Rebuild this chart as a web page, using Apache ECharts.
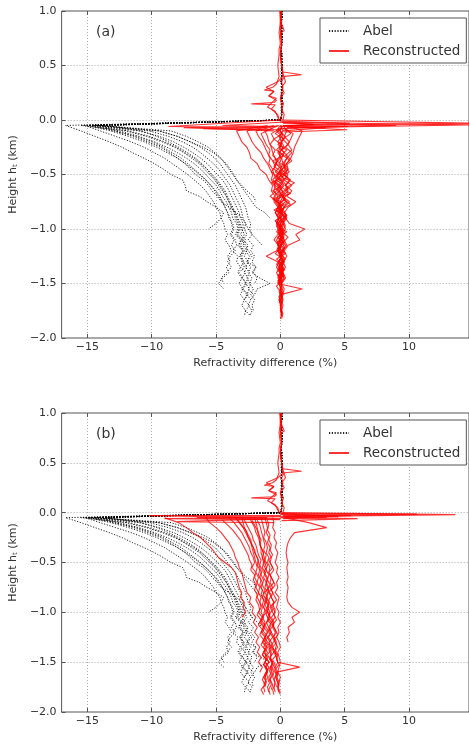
<!DOCTYPE html>
<html>
<head>
<meta charset="utf-8">
<script src="https://cdn.jsdelivr.net/npm/echarts@6/dist/echarts.min.js"></script>
<style>
html, body { margin: 0; padding: 0; background: #fff; }
#chart { width: 469px; height: 744px; }
</style>
</head>
<body>
<div id="chart"></div>
<script>
// height grids (km)
const zTop = [1.0, 0.95, 0.9, 0.85, 0.8, 0.75, 0.7, 0.65, 0.6, 0.55, 0.5, 0.45, 0.4, 0.35, 0.3, 0.25, 0.2, 0.15, 0.1, 0.05, 0.0];
const zLow = [-0.05, -0.1, -0.15, -0.2, -0.25, -0.3, -0.35, -0.4, -0.45, -0.5, -0.55, -0.6, -0.65, -0.7, -0.75, -0.8, -0.85, -0.9,
  -0.95, -1.0, -1.05, -1.1, -1.15, -1.2, -1.25, -1.3, -1.35, -1.4, -1.45, -1.5, -1.55, -1.6, -1.65, -1.7, -1.75, -1.8];
const zLowOff = [-0.075, -0.125, -0.175, -0.225, -0.275, -0.325, -0.375, -0.425, -0.475, -0.525, -0.575, -0.625, -0.675, -0.725,
  -0.775, -0.825, -0.875, -0.925, -0.975, -1.025, -1.075, -1.125, -1.175, -1.225, -1.275, -1.325, -1.375, -1.425, -1.475, -1.525,
  -1.575, -1.625, -1.675, -1.725, -1.775, -1.825];
const xTicks = [-15, -10, -5, 0, 5, 10];

// Abel profiles (same in both panels)
const abelTop = [0.1, 0.12, 0.08, 0.1, 0.1, 0.12, 0.1, 0.08, 0.1, 0.1, 0.12, 0.1, 0.1, 0.08, 0.1, 0.1, 0.12, 0.1, 0.1, 0.1, 0.05];
const abel01 = [-16.7, -15.5, -14.4, -13.3, -12.3, -11.5, -10.6, -9.8, -9.1, -8.5, -7.6, -7.4, -7.3, -6.3, -5.7, -5.0, -4.4, -4.6, -5.0, -5.6];
const abel02 = [-15.2, -14.0, -12.8, -11.6, -10.6, -9.8, -9.0, -8.4, -7.8, -7.2, -6.7, -6.2, -5.8, -5.5, -5.2, -5.0, -4.7, -4.6, -4.4, -4.3,
  -4.1, -4.3, -4.0, -3.8, -4.1, -3.9, -4.2, -4.0, -4.5, -4.8, -4.4];
const abel03 = [-15.0, -13.2, -11.8, -10.6, -9.6, -8.8, -8.0, -7.4, -6.8, -6.3, -5.8, -5.4, -5.1, -4.8, -4.5, -4.3, -4.1, -4.0, -3.7, -3.6,
  -3.8, -3.5, -3.4, -3.7, -3.3, -3.4, -3.1, -3.3, -3.0, -3.2, -2.9, -3.1, -2.8, -3.0, -2.7, -2.8];
const abel04 = [-14.8, -12.5, -11.0, -9.8, -8.8, -8.0, -7.3, -6.7, -6.2, -5.8, -5.4, -5.0, -4.7, -4.5, -4.2, -4.0, -3.8, -3.7, -3.4, -3.3,
  -3.5, -3.1, -3.2, -2.9, -3.1, -3.0, -2.8, -3.2, -2.9, -2.7, -3.0, -2.6, -2.8];
const abel05 = [-14.6, -11.8, -10.2, -9.0, -8.1, -7.4, -6.7, -6.2, -5.7, -5.3, -4.9, -4.6, -4.3, -4.1, -3.9, -3.7, -3.5, -3.4, -3.2, -3.1,
  -3.3, -2.9, -3.1, -2.8, -3.0, -2.9, -2.6, -2.8, -2.5, -2.7, -2.4, -2.6, -2.3, -2.5, -2.2, -2.4];
const abel06 = [-14.5, -11.0, -9.4, -8.3, -7.5, -6.8, -6.2, -5.7, -5.3, -4.9, -4.5, -4.2, -4.0, -3.8, -3.6, -3.4, -3.2, -3.1, -2.9, -2.9,
  -3.1, -2.7, -2.9, -2.6, -2.8, -2.5, -2.7, -2.4, -2.6, -2.3, -2.5, -2.1];
const abel07 = [-14.4, -10.2, -8.7, -7.6, -6.8, -6.2, -5.7, -5.2, -4.8, -4.5, -4.2, -3.9, -3.7, -3.5, -3.3, -3.1, -3.0, -2.9, -2.7, -2.8,
  -2.6, -2.9, -2.5, -2.7, -2.4, -2.6, -2.3, -2.5, -2.2, -2.4, -2.1, -2.3, -2.0, -2.2, -2.1];
const abel08 = [-14.3, -9.4, -8.0, -7.0, -6.2, -5.6, -5.1, -4.7, -4.4, -4.1, -3.8, -3.5, -3.3, -3.1, -2.9, -2.7, -2.6, -2.5, -2.3, -2.4,
  -2.2, -2.5, -2.1, -2.3, -2.0, -2.2, -1.9, -2.1, -1.8, -2.0];
const abel09 = [-14.2, -8.5, -7.3, -6.4, -5.6, -5.1, -4.6, -4.3, -4.0, -3.7, -3.4, -3.1, -2.8, -2.5, -2.2, -1.9, -1.2, -0.8];
const abel10 = [-14.0, -9.5, -8.0, -7.0, -6.0, -5.2, -4.7, -4.2, -3.9, -3.6, -3.4, -3.0, -2.6, -2.1, -1.9];
const abel11 = [-13.8, -13.0, -11.2, -10.0, -9.1, -8.4, -7.7, -7.2, -6.7, -6.2, -5.8, -5.4, -5.0, -4.7, -4.5, -4.3, -4.1, -3.9, -3.8, -3.7,
  -3.9, -3.6, -3.8, -3.5, -3.9, -4.1, -3.8, -4.2, -4.6, -4.4];
const abel12 = [-13.6, -10.8, -9.6, -8.7, -7.9, -7.2, -6.6, -6.1, -5.7, -5.4, -5.0, -4.7, -4.4, -4.2, -4.0, -3.8, -3.6, -3.5, -3.3, -3.2,
  -3.4, -3.0, -3.3, -2.9, -3.2, -2.8, -3.1, -2.7, -3.0, -2.6, -2.9, -2.5, -2.8, -2.4, -2.7, -2.3];
const abel13 = [-15.5, -12.0, -10.4, -9.2, -8.2, -7.5, -6.9, -6.3, -5.9, -5.5, -5.1, -4.8, -4.5, -4.2, -4.0, -3.8, -3.5, -3.3, -3.1, -3.0,
  -2.8, -3.0, -2.7, -2.5, -2.2, -2.6, -1.9, -2.2, -1.6, -0.8, -1.8, -2.0, -2.3];
const abel14 = [-14.9, -12.8, -11.4, -10.3, -9.3, -8.6, -8.0, -7.4, -7.0, -6.6, -6.0, -5.6, -5.3, -4.9, -4.6, -4.0, -3.4, -3.0, -2.7, -2.5,
  -2.2, -1.8, -1.4];

// Reconstructed above the surface, [x, height] (same in both panels)
const redTop1 = [[0.0, 1.0], [0.05, 0.9], [0.3, 0.82], [0.05, 0.8], [0.1, 0.7], [0.0, 0.6], [0.1, 0.5], [0.2, 0.44], [1.65, 0.415],
  [0.3, 0.4], [0.1, 0.35], [0.2, 0.3], [0.0, 0.2], [0.15, 0.1], [0.05, 0.0]];
const redTop2 = [[-0.05, 1.0], [0.0, 0.9], [-0.1, 0.8], [0.0, 0.7], [-0.1, 0.65], [-0.1, 0.6], [-0.2, 0.5], [-0.1, 0.4], [-0.3, 0.33],
  [-0.6, 0.3], [-1.25, 0.275], [-0.5, 0.265], [-0.9, 0.22], [-0.3, 0.18], [-0.5, 0.16], [-2.25, 0.148], [-0.4, 0.14], [-0.7, 0.1],
  [-0.2, 0.05], [-0.1, 0.0]];
const redTop3 = [[0.05, 1.0], [0.1, 0.9], [0.0, 0.8], [0.1, 0.7], [0.0, 0.6], [0.1, 0.5], [0.2, 0.4], [-0.2, 0.35], [-1.1, 0.3],
  [-0.5, 0.26], [-0.9, 0.22], [-0.3, 0.2], [-1.0, 0.12], [-0.4, 0.08], [-0.1, 0.0]];
const redTop4 = [[0.1, 1.0], [0.0, 0.9], [0.05, 0.8], [0.1, 0.7], [0.0, 0.6], [0.1, 0.5], [0.2, 0.43], [0.4, 0.35], [0.1, 0.3],
  [0.3, 0.25], [0.0, 0.2], [0.25, 0.15], [0.1, 0.1], [0.3, 0.05], [0.2, 0.0]];

// Reconstructed (a), below the surface, on zLow
const redA01 = [-1.0, -3.4, -3.2, -3.0, -2.6, -2.4, -2.3, -1.8, -1.6, -1.1, -0.9, -0.6, -0.7, -0.4, -0.5, -0.2, -0.4, -0.1, -0.3, -0.2,
  0.0, -0.3, -0.1, -0.2, 0.1, -0.1, -0.3, 0.0, -0.2, 0.1];
const redA02 = [-0.5, -2.6, -2.4, -2.2, -1.9, -1.5, -1.3, -1.0, -0.8, -0.6, -0.7, -0.4, -0.5, -0.2, -0.4, -0.1, 0.1, -0.2, 0.0, 0.2,
  -0.1, 0.1, -0.2, 0.0, 0.1, -0.1, 0.2, 0.0, -0.1, 0.1, 0.0, 0.2, -0.1, 0.1, 0.0, 0.1];
const redA03 = [-0.2, -1.9, -1.7, -1.4, -1.2, -1.0, -0.8, -0.9, -0.6, -0.5, -0.3, -0.5, -0.2, 0.0, -0.3, 0.1, -0.2, 0.0, 0.2, -0.1,
  0.1, 0.3, 0.0, -0.2, 0.1, 0.2, -0.1, 0.0, 0.3, 0.1];
const redA04 = [0.6, 1.7, 1.5, 1.3, 1.1, 1.0, 0.8, 0.5, 0.6, 0.3, 0.7, 0.4, 0.9, 0.5, 1.2, 0.6, 0.3, 0.5, 0.2, 0.4,
  0.1, 0.3, 0.5, 0.2, 0.0, 0.3, 0.1, 0.2, 0.4, 0.1, 0.3, 0.2, 0.1, 0.2, 0.1, 0.1];
const redA05 = [0.2, 0.5, 0.3, 0.7, 0.4, 0.9, 0.5, 0.3, 0.6, 0.2, 0.8, 0.4, 0.6, 0.2, 0.5, 0.3, 0.0, 0.4, 0.7, 1.9,
  1.2, 1.5, 0.6, 0.3, 0.5, 0.2, 0.4, 0.1, 0.3, 0.0];
const redA06 = [0.0, -0.3, 0.1, -0.2, 0.2, -0.1, 0.0, -0.4, 0.1, -0.2, -0.6, 0.0, -0.3, -0.8, -0.2, 0.1, -0.4, -0.1, -0.3, 0.0,
  -0.2, -0.5, -0.1, -0.3, -1.1, -0.2, 0.0, -0.3, -0.1, -0.2];
const redA07 = [0.1, 0.0, 0.2, 0.1, -0.1, 0.3, 0.1, 0.2, 0.4, 0.0, 0.3, -0.2, 0.2, 0.1, 0.4, -0.1, 0.2, 0.0, 0.3, 0.1,
  -0.1, 0.2, 0.0, 0.3, 0.1, -0.1, 0.2, 0.0, 0.1, -0.2, 1.7, 0.1, 0.2, 0.0, 0.1, 0.1];
const redA08 = [0.0, 0.2, -0.1, 0.1, 0.0, -0.2, 0.1, -0.1, 0.2, -0.3, 0.0, 0.3, -0.1, 0.2, 0.0, -0.2, 0.1, 0.3, 0.0, -0.1,
  0.2, 0.0, -0.2, 0.1, 0.0, 0.2, -0.1, 0.1, 0.0, -0.1, 0.1, 0.0, 0.2, 0.0, 0.1, 0.1];
const redA09 = [-0.1, -1.2, -1.0, -0.9, -0.7, -0.6, -0.4, -0.3, -0.5, 0.1, -0.3, 0.2, -0.6, 0.0, -0.2, 0.3, -0.1, 0.1, -0.2, 0.0,
  0.2, -0.1, 0.1, -0.2, 0.0, 0.1, -0.1, 0.2, 0.0, -0.1, 0.0, 0.1, -0.1, 0.0];
const redA10 = [0.3, -0.2, 0.4, 0.1, 0.3, -0.1, 0.5, 0.2, 0.0, 0.6, 0.3, 0.9, 0.4, 0.2, 0.7, 0.3, 0.1, 0.4, 0.2, 0.0,
  0.3, 0.1, 0.4, 0.2, 0.0, 0.3, 0.1, 0.2, 0.0, 0.1];
// Reconstructed (a), on zLowOff
const redA11 = [0.1, -0.4, 0.3, -0.2, 0.5, 0.0, -0.3, 0.4, -0.1, 0.6, -0.4, 0.2, 0.8, -0.3, 0.3, -0.5, 0.4, 0.0, -0.3, 0.5,
  -0.2, 0.3, -0.1, 0.4, -0.3, 0.2, 0.0, 0.3, -0.2, 0.1, 0.2, -0.1, 0.1, 0.0, 0.2, 0.1];
const redA12 = [-0.2, 0.2, -0.5, 0.1, -0.3, 0.3, -0.6, 0.0, -0.4, 0.2, -0.7, -0.1, 0.3, -0.5, 0.0, -0.3, 0.2, -0.4, 0.1, -0.2,
  0.3, -0.3, 0.0, -0.4, 0.2, -0.1, 0.3, -0.2, 0.1, -0.3, 0.0, 0.1, -0.1];
const redA13 = [0.4, 0.8, 0.2, 0.6, 0.1, 0.5, 0.9, 0.3, 0.7, 0.1, 1.1, 0.4, 0.6, 0.2, 0.8, 0.0, 0.5, 0.2, 0.4, 0.1,
  0.6, 0.2, 0.3, 0.0, 0.4, 0.1, 0.3, 0.0, 0.2];
const redA14 = [-0.6, -1.5, -1.3, -1.1, -0.8, -0.9, -0.6, -0.4, -0.7, -0.2, -0.5, 0.1, -0.3, -0.6, 0.0, -0.2, 0.2, -0.4, 0.0, -0.3,
  0.1, -0.2, 0.3, -0.1, 0.0, -0.3, 0.2, -0.1, 0.0];
const redA15 = [0.2, 1.0, 0.8, 0.6, 0.9, 0.4, 0.7, 0.2, 0.5, -0.1, 0.3, 0.6, 0.0, 0.4, -0.2, 0.2, 0.5, 0.1, -0.1, 0.3,
  0.0, 0.2, -0.2, 0.1, 0.3, 0.0, -0.1, 0.2, 0.0, 0.1, -0.1, 0.1, 0.0];
const redA16 = [0.0, -0.7, -0.5, -0.8, -0.4, -0.6, -0.2, -0.5, 0.1, -0.3, 0.2, -0.2, 0.0, 0.3, -0.1, 0.2, -0.3, 0.1, 0.0, 0.2,
  -0.2, 0.1, 0.0, -0.1, 0.2, 0.0, -0.2, 0.1, 0.0, 0.1, 0.0, -0.1, 0.1, 0.0, 0.1, 0.0];

// Reconstructed (b), below the surface, on zLow
const redB01 = [-9.0, -7.9, -7.3, -6.8, -6.2, -5.8, -5.4, -5.1, -4.8, -4.3, -3.8, -3.5, -3.4, -3.3, -3.2, -3.0, -3.1, -2.8, -2.9, -2.7, -3.0];
const redB02 = [-5.8, -5.5, -5.0, -4.6, -4.3, -4.0, -3.8, -3.6, -3.5, -3.3, -3.2, -3.0, -2.9, -2.8, -2.7, -2.6, -2.3, -2.4, -2.1, -2.2,
  -1.9, -2.1, -1.8, -2.0, -1.7, -1.9, -1.6, -1.8, -1.5, -1.7, -1.4, -1.6];
const redB03 = [-3.0, -2.9, -2.8, -2.6, -2.5, -2.3, -2.2, -2.1, -2.0, -1.9, -1.8, -1.9, -1.7, -1.8, -1.6, -1.7, -1.5, -1.6, -1.4, -1.5,
  -1.3, -1.5, -1.2, -1.4, -1.1, -1.3, -1.0, -1.2, -1.1, -0.9, -1.2, -1.0, -1.3, -1.1, -1.2];
const redB04 = [-2.0, -1.9, -1.8, -1.7, -1.6, -1.6, -1.5, -1.5, -1.4, -1.3, -1.4, -1.2, -1.3, -1.1, -1.2, -1.0, -1.1, -0.9, -1.0, -0.8,
  -1.0, -0.7, -0.9, -0.8, -0.6, -0.9, -0.7, -0.5, -0.8, -0.6, -0.7, -0.5, -0.6, -0.4, -0.5, -0.4];
const redB05 = [-4.0, -3.6, -3.3, -3.0, -2.8, -2.6, -2.4, -2.3, -2.1, -2.0, -2.2, -1.9, -2.0, -1.8, -1.9, -1.7, -1.8, -1.6, -1.5, -1.7,
  -1.4, -1.6, -1.3, -1.5, -1.2, -1.4, -1.1, -1.3, -1.0, -1.2, -0.9, -1.1, -1.0, -0.9];
const redB06 = [-1.5, -1.4, -1.3, -1.2, -1.3, -1.1, -1.0, -1.1, -0.9, -1.0, -0.8, -0.9, -0.7, -0.8, -0.6, -0.9, -0.7, -0.5, -0.8, -0.6,
  -0.4, -0.7, -0.5, -0.3, -0.6, -0.4, -0.2, -0.5, -0.3, -0.2, -0.4, -0.2, -0.3, -0.1, -0.2, -0.1];
const redB07 = [0.3, 2.2, 3.6, 1.1, 0.8, 0.6, 0.5, 0.45, 0.5, 0.6, 0.5, 0.55, 0.6, 0.5, 0.6, 0.55, 0.5, 0.6, 0.9, 1.5,
  0.9, 1.1, 0.6, 0.7, 0.5, 0.6];
const redB08 = [-1.2, -1.1, -1.0, -1.1, -0.9, -1.0, -0.8, -0.9, -0.7, -0.8, -0.6, -0.9, -0.7, -0.5, -0.8, -0.6, -0.7, -0.5, -0.6, -0.4,
  -0.7, -0.5, -0.6, -0.4, -0.5, -0.3, -0.6, -0.4, -0.3, -0.2, 1.5, -0.3, -0.4, -0.2, -0.3];
const redB09 = [-0.6, -0.5, -0.6, -0.4, -0.5, -0.3, -0.4, -0.2, -0.3, -0.4, -0.2, -0.3, -0.1, -0.3, -0.2, -0.4, -0.1, -0.2, -0.3, -0.1,
  -0.2, 0.0, -0.2, -0.1, -0.3, -0.1, 0.0, -0.2, -0.1, 0.0, -0.1, -0.2, 0.0, -0.1, -0.2, 0.0];
const redB10 = [-2.4, -2.2, -2.0, -1.9, -1.7, -1.6, -1.5, -1.3, -1.4, -1.2, -1.1, -1.3, -1.0, -1.1, -0.9, -1.2, -1.0, -1.1, -0.9, -1.0,
  -0.8, -1.1, -0.9, -0.7, -1.0, -0.8, -0.9, -0.7, -0.8, -0.6, -0.8, -0.7, -0.9, -0.8, -1.0, -0.9];
const redB11 = [-3.5, -3.2, -2.9, -2.7, -2.5, -2.3, -2.1, -2.0, -1.8, -1.7, -1.6, -1.5, -1.6, -1.4, -1.5, -1.3, -1.4, -1.2, -1.3, -1.1,
  -1.4, -1.2, -1.3, -1.0, -1.2, -1.1, -1.3, -1.0, -1.2, -0.9, -1.1, -1.0, -1.2, -1.1, -1.3, -1.2];
// Reconstructed (b), on zLowOff
const redB12 = [-2.8, -2.6, -2.4, -2.2, -2.1, -1.9, -1.8, -1.7, -1.5, -1.6, -1.4, -1.5, -1.3, -1.4, -1.2, -1.3, -1.1, -1.2, -1.0, -1.1,
  -0.9, -1.2, -1.0, -0.8, -1.1, -0.9, -0.7, -1.0, -0.8, -0.6, -0.9, -0.7, -0.8, -0.6, -0.7];
const redB13 = [-1.8, -1.6, -1.5, -1.4, -1.3, -1.2, -1.3, -1.1, -1.2, -1.0, -1.1, -0.9, -1.0, -0.8, -1.0, -0.7, -0.9, -0.8, -0.6, -0.9,
  -0.7, -0.5, -0.8, -0.6, -0.4, -0.7, -0.5, -0.3, -0.6, -0.4, -0.5, -0.3, -0.5, -0.4, -0.6, -0.5];
const redB14 = [-4.5, -4.1, -3.7, -3.4, -3.1, -2.9, -2.7, -2.5, -2.4, -2.2, -2.3, -2.0, -2.1, -1.9, -2.0, -1.8, -1.9, -1.7, -1.6, -1.8,
  -1.5, -1.7, -1.4, -1.6, -1.3, -1.5, -1.2, -1.4, -1.1, -1.3, -1.0, -1.2, -1.1, -1.3];
const redB15 = [-1.0, -0.9, -1.0, -0.8, -0.9, -0.7, -0.8, -0.6, -0.9, -0.7, -0.5, -0.8, -0.6, -0.4, -0.7, -0.5, -0.3, -0.6, -0.4, -0.5,
  -0.3, -0.6, -0.4, -0.2, -0.5, -0.3, -0.4, -0.2, -0.3, -0.1, -0.4, -0.2, -0.3, -0.1, -0.2, 0.0];
const redB16 = [-2.2, -2.0, -1.8, -1.7, -1.5, -1.6, -1.4, -1.3, -1.2, -1.3, -1.1, -1.2, -1.0, -1.1, -0.9, -1.0, -1.2, -0.9, -1.1, -0.8,
  -1.0, -0.7, -0.9, -1.1, -0.8, -0.6, -0.9, -0.7, -0.8, -0.5, -0.7, -0.6, -0.8, -0.7, -0.9, -0.8];
const redB17 = [-3.3, -3.0, -2.7, -2.5, -2.3, -2.2, -2.0, -1.9, -1.7, -1.8, -1.6, -1.7, -1.5, -1.6, -1.4, -1.5, -1.3, -1.4, -1.2, -1.3,
  -1.5, -1.2, -1.4, -1.1, -1.3, -1.0, -1.2, -1.4, -1.1, -1.3, -1.0, -1.2, -1.4, -1.2, -1.5, -1.3];

// near-surface excursions [x, height]
const spikesA = [
  [[0.1, 0.0], [15.5, -0.03], [0.2, -0.05]],
  [[0.0, -0.01], [5.4, -0.03], [0.3, -0.05], [5.3, -0.06], [0.1, -0.08]],
  [[0.0, -0.02], [14.8, -0.045], [0.5, -0.07]],
  [[0.1, -0.02], [2.6, -0.04], [0.0, -0.06], [3.5, -0.07], [0.2, -0.1]],
  [[0.0, 0.0], [-8.7, -0.06], [-1.0, -0.07], [-6.0, -0.08], [0.0, -0.09]],
  [[0.0, -0.02], [-4.5, -0.05], [-0.3, -0.06], [-7.5, -0.07], [-0.5, -0.1]],
  [[0.2, -0.03], [9.0, -0.05], [0.4, -0.06], [5.2, -0.09], [0.3, -0.11]]
];
const spikesB = [
  [[0.1, 0.0], [13.6, -0.02], [0.3, -0.04]],
  [[0.0, -0.01], [10.6, -0.015], [0.2, -0.03]],
  [[0.0, -0.02], [5.5, -0.03], [0.1, -0.04], [3.6, -0.05], [0.2, -0.06]],
  [[0.0, -0.01], [4.5, -0.04], [0.0, -0.05], [6.0, -0.06], [0.1, -0.08]],
  [[0.0, -0.03], [-10.2, -0.03], [-1.0, -0.05], [-9.0, -0.06], [0.0, -0.07]],
  [[0.1, -0.04], [-6.5, -0.05], [0.0, -0.06], [-8.0, -0.09], [-0.5, -0.1]]
];

const abelLow = [abel01, abel02, abel03, abel04, abel05, abel06, abel07, abel08, abel09, abel10, abel11, abel12, abel13, abel14];
const redTops = [redTop1, redTop2, redTop3, redTop4];
const redLowA = [redA01, redA02, redA03, redA04, redA05, redA06, redA07, redA08, redA09, redA10];
const redOffA = [redA11, redA12, redA13, redA14, redA15, redA16];
const redLowB = [redB01, redB02, redB03, redB04, redB05, redB06, redB07, redB08, redB09, redB10, redB11];
const redOffB = [redB12, redB13, redB14, redB15, redB16, redB17];

const FONT = 'DejaVu Sans';
const chart = echarts.init(document.getElementById('chart'));

function toPairs(xs, zs) {
  const n = Math.min(xs.length, zs.length);
  const out = [];
  for (let i = 0; i < n; i++) out.push([xs[i], zs[i]]);
  return out;
}
function minus(s) { return String(s).replace('-', '\u2212'); }

const abelStyle = { color: 'rgba(0,0,0,0.85)', width: 1, type: [1.2, 1.6] };
const redStyle = { color: 'rgba(255,0,0,0.8)', width: 1.1, type: 'solid' };

function line(name, xi, yi, data, style) {
  return {
    name: name, type: 'line', xAxisIndex: xi, yAxisIndex: yi, data: data,
    symbol: 'none', silent: true, animation: false,
    color: style.color, lineStyle: style
  };
}

function panelSeries(xi, yi, lows, offs, spikes) {
  const s = [];
  abelLow.forEach(p => s.push(line('Abel', xi, yi, toPairs(abelTop, zTop).concat(toPairs(p, zLow)), abelStyle)));
  redTops.forEach(p => s.push(line('Reconstructed', xi, yi, p, redStyle)));
  spikes.forEach(p => s.push(line('Reconstructed', xi, yi, p, redStyle)));
  lows.forEach(p => s.push(line('Reconstructed', xi, yi, toPairs(p, zLow), redStyle)));
  offs.forEach(p => s.push(line('Reconstructed', xi, yi, toPairs(p, zLowOff), redStyle)));
  return s;
}

function xAxisBottom(gi) {
  return {
    gridIndex: gi, type: 'value', min: -17, max: 14.66, position: 'bottom',
    name: 'Refractivity difference (%)', nameLocation: 'middle', nameGap: 20,
    nameTextStyle: { fontFamily: FONT, fontSize: 11, color: '#333' },
    axisLine: { show: false, onZero: false },
    axisTick: { show: true, inside: true, length: 4, customValues: xTicks, lineStyle: { color: '#555' } },
    axisLabel: { customValues: xTicks, formatter: v => minus(v), margin: 4, fontFamily: FONT, fontSize: 11, color: '#333' },
    splitLine: { show: true, lineStyle: { color: '#aaa', width: 1, type: [1, 2] } }
  };
}
function xAxisTop(gi) {
  return {
    gridIndex: gi, type: 'value', min: -17, max: 14.66, position: 'top',
    axisLine: { show: false, onZero: false },
    axisTick: { show: true, inside: true, length: 4, customValues: xTicks, lineStyle: { color: '#555' } },
    axisLabel: { show: false },
    splitLine: { show: false }
  };
}
function yAxisLeft(gi) {
  return {
    gridIndex: gi, type: 'value', min: -2, max: 1, interval: 0.5,
    name: 'Height h{sub|t} (km)', nameLocation: 'middle', nameGap: 37,
    nameTextStyle: { fontFamily: FONT, fontSize: 11, color: '#333',
      rich: { sub: { fontFamily: FONT, fontSize: 7, color: '#333', padding: [4, 0, 0, 0] } } },
    axisLine: { show: false, onZero: false },
    axisTick: { show: true, inside: true, length: 4, lineStyle: { color: '#555' } },
    axisLabel: { formatter: v => minus(v.toFixed(1)), margin: 5, fontFamily: FONT, fontSize: 11, color: '#333' },
    splitLine: { show: true, lineStyle: { color: '#aaa', width: 1, type: [1, 2] } }
  };
}
function legendAt(top) {
  return {
    data: ['Abel', 'Reconstructed'], orient: 'vertical', left: 320, top: top,
    backgroundColor: '#fff', borderColor: '#555', borderWidth: 1, borderRadius: 0,
    padding: [6, 6, 5, 8], itemGap: 6, itemWidth: 20, itemHeight: 12,
    selectedMode: false,
    itemStyle: { opacity: 0 },
    textStyle: { fontFamily: FONT, fontSize: 13.5, color: '#333', padding: [0, 0, 0, 9] }
  };
}

const option = {
  backgroundColor: '#fff',
  animation: false,
  title: [
    { text: '(a)', left: 91, top: 20, textStyle: { fontFamily: FONT, fontSize: 14, fontWeight: 'normal', color: '#333' } },
    { text: '(b)', left: 91, top: 422, textStyle: { fontFamily: FONT, fontSize: 14, fontWeight: 'normal', color: '#333' } }
  ],
  legend: [legendAt(18), legendAt(420)],
  grid: [
    { left: 53, top: 11, width: 417, height: 327, show: true, borderColor: '#555', borderWidth: 1, backgroundColor: 'transparent' },
    { left: 53, top: 413, width: 417, height: 327, show: true, borderColor: '#555', borderWidth: 1, backgroundColor: 'transparent' }
  ],
  xAxis: [xAxisBottom(0), xAxisTop(0), xAxisBottom(1), xAxisTop(1)],
  yAxis: [yAxisLeft(0), yAxisLeft(1)],
  series: panelSeries(0, 0, redLowA, redOffA, spikesA).concat(panelSeries(2, 1, redLowB, redOffB, spikesB))
};
chart.setOption(option);
</script>
</body>
</html>
